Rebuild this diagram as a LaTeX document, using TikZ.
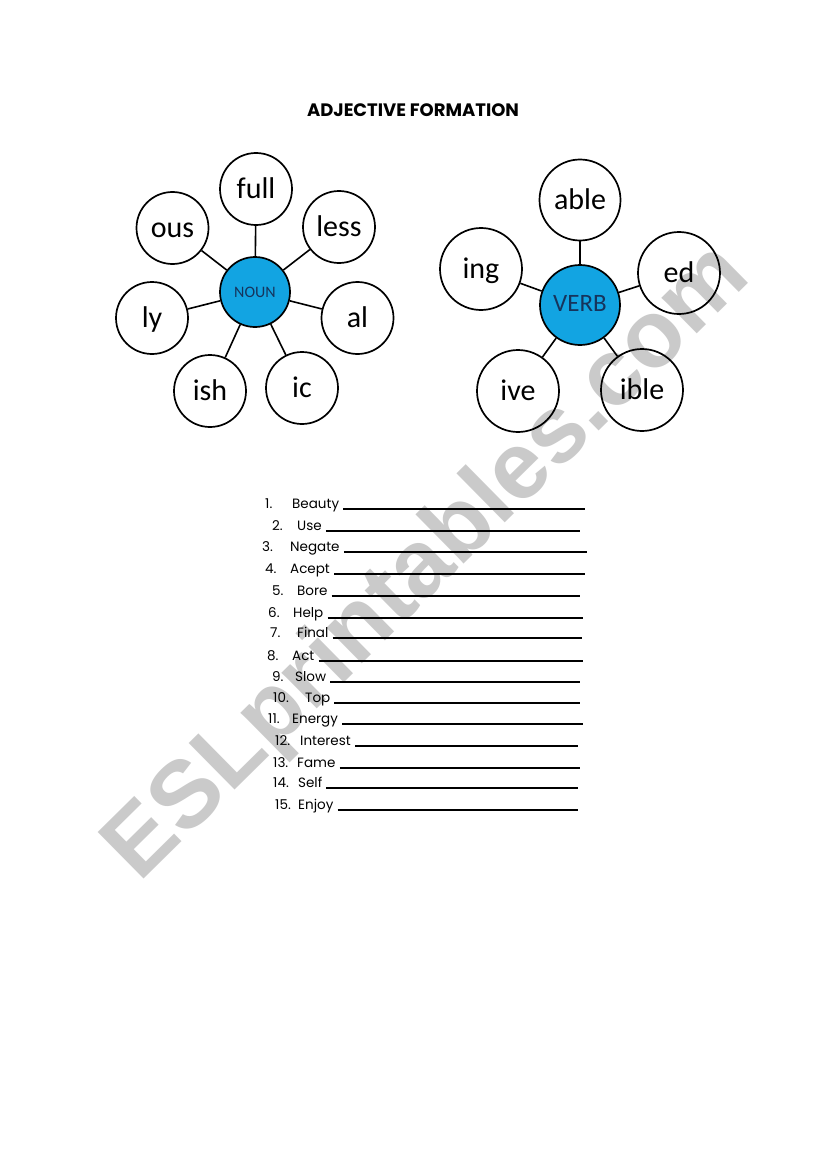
\documentclass[tikz,border=0pt]{standalone}
\usepackage{fontspec}
\usepackage{xcolor}
\usepackage{tikz}
\usetikzlibrary{positioning,calc}
\setmainfont{Carlito}
\newfontfamily\markfont{Liberation Sans}
\newfontfamily\gothic{Poppins}
\definecolor{hubblue}{RGB}{18,164,226}
\definecolor{hubtext}{RGB}{22,52,92}
\definecolor{markgray}{RGB}{202,202,202}

\begin{document}
\begin{tikzpicture}[x=1pt,y=-1pt,
  petal/.style={circle, draw=black, line width=1.7pt, inner sep=0pt, minimum size=72pt,
    text height=22pt, text depth=4pt, font=\fontsize{30}{30}\selectfont},
  hub/.style={petal, fill=hubblue, text=hubtext, text depth=0pt},
  link/.style={line width=1.6pt},
  blank/.style={line width=1.1pt},
  item/.style={anchor=base west, inner sep=0pt, font=\gothic\fontsize{13.5}{14}\selectfont}]
% Page and margins
\fill[white] (0,0) rectangle (821,1169);
\useasboundingbox (0,0) rectangle (821,1169);

% Watermark
\node[markgray, font=\markfont\bfseries\fontsize{95}{95}\selectfont, rotate=44.6] (mark) at (429,564) {ESLprintables.com};

% Title
\node[font=\gothic\bfseries\fontsize{18}{18}\selectfont] (title) at (413,110) {ADJECTIVE FORMATION};

% Noun flower
\node[hub, minimum size=70pt, text height=10pt, font=\fontsize{16}{16}\selectfont] (noun) at (255,292) {NOUN};
\node[petal] (full) at (256,189) {full};
\node[petal] (less) at (339,227) {less};
\node[petal] (al) at (357.5,318) {al};
\node[petal] (ic) at (302,388) {ic};
\node[petal] (ish) at (210,391) {ish};
\node[petal] (ly) at (152,318) {ly};
\node[petal] (ous) at (172.5,228) {ous};
\foreach \p in {full,less,al,ic,ish,ly,ous}
  \draw[link] (noun) -- (\p);

% Verb flower
\node[hub, minimum size=80pt, text height=12pt, font=\fontsize{25}{25}\selectfont] (verb) at (580,305) {VERB};
\node[petal, minimum size=81pt] (able) at (580,200) {able};
\node[petal, minimum size=82pt] (ed) at (679,273) {ed};
\node[petal, minimum size=82pt] (ible) at (642,390) {ible};
\node[petal, minimum size=82pt] (ive) at (518,391) {ive};
\node[petal, minimum size=82pt] (ing) at (481,269) {ing};
\foreach \p in {able,ed,ible,ive,ing}
  \draw[link] (verb) -- (\p);

% Exercise list
\foreach \n/\w/\xn/\xw/\xe/\y in {1/Beauty/265/292/585/509, 2/Use/272/297/580/531,
    3/Negate/262/290/587/552, 4/Acept/265/290/585/574, 5/Bore/272/297/580/596,
    6/Help/268/293/583/618, 7/Final/270/297/582/638, 8/Act/267/292/583/661,
    9/Slow/272/295/580/682, 10/Top/273/305/580/703, 11/Energy/268/292/583/724,
    12/Interest/275/300/578/746, 13/Fame/273/297/580/768, 14/Self/273/298/578/788,
    15/Enjoy/275/298/578/810}{
  \node[item] (num\n) at (\xn,\y-1) {\n.};
  \node[item] (word\n) at (\xw,\y-1) {\w};
  \draw[blank] ($(word\n.base east)+(4,1)$) -- (\xe,\y);
}
\end{tikzpicture}
\end{document}
